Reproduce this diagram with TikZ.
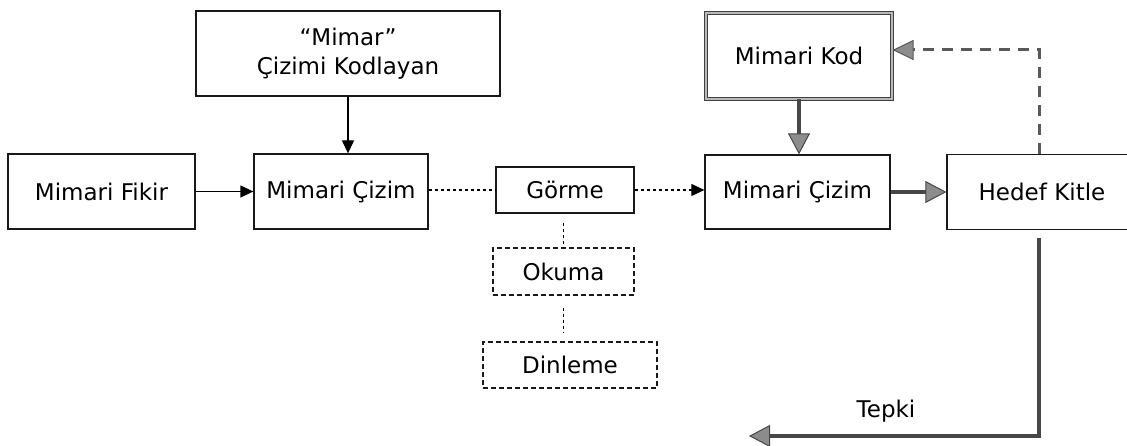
\documentclass[tikz,border=0pt]{standalone}
\usepackage{fontspec}
\setmainfont{DejaVu Sans}
\usetikzlibrary{arrows.meta}
\begin{document}
\begin{tikzpicture}[x=1pt,y=-1pt,
  box/.style={draw=black!90, line width=1.3pt, inner sep=0pt, align=center,
    font=\fontsize{23}{29}\selectfont},
  dbox/.style={box, dash pattern=on 5pt off 3pt},
  kodbox/.style={box, draw=black!75, line width=1pt, double=gray!55, double distance=2pt},
  blk/.style={line width=1.3pt, -{Triangle[length=13pt,width=12pt]}},
  thin dash/.style={line width=1.2pt, dash pattern=on 3.5pt off 2.5pt},
  gry/.style={draw=black!72, line width=3.2pt,
    -{Triangle[length=21pt,width=22pt,fill=black!45,line width=1pt]}},
  fb/.style={draw=black!65, line width=3pt, dash pattern=on 11pt off 8pt,
    -{Triangle[length=21pt,width=20pt,fill=black!45,line width=1pt,sep=0pt]}},
  lbl/.style={font=\fontsize{23}{29}\selectfont, inner sep=0pt}]
\useasboundingbox (0,0) rectangle (1127,446);

\node[box, minimum width=187pt, minimum height=75pt] (fikir) at (101.5,191.5) {Mimari Fikir};
\node[box, minimum width=304pt, minimum height=85pt] (kodlayan) at (348,53.5) {“Mimar”\\Çizimi Kodlayan};
\node[box, minimum width=174pt, minimum height=75pt] (cizim1) at (341,191.5) {Mimari Çizim};
\node[box, minimum width=138pt, minimum height=46pt] (gorme) at (565,190) {Görme};
\node[dbox, minimum width=141pt, minimum height=47pt] (okuma) at (563.5,271.5) {Okuma};
\node[dbox, minimum width=174pt, minimum height=46pt] (dinleme) at (570,365) {Dinleme};
\node[box, minimum width=185pt, minimum height=74pt] (cizim2) at (797.5,192) {Mimari Çizim};
\node[box, minimum width=190pt, minimum height=75pt] (hedef) at (1042,192) {Hedef Kitle};
\node[kodbox, minimum width=186pt, minimum height=86pt] (kod) at (799,56) {Mimari Kod};

\coordinate (hx) at (1039,0);
\coordinate (tepkiEnd) at (749,436);

\draw[blk] (fikir.east) -- (cizim1.west);
\draw[blk] (kodlayan.south) -- (kodlayan.south |- cizim1.north);
\draw[thin dash] (gorme.west -| cizim1.east) -- (gorme.west);
\draw[thin dash, -{Triangle[length=13pt,width=12pt]}] (gorme.east) -- (gorme.east -| cizim2.west);
\draw[thin dash, shorten <=9pt] (gorme.south -| okuma.north) -- (okuma.north);
\draw[thin dash, shorten <=12pt, shorten >=9pt] (okuma.south) -- (okuma.south |- dinleme.north);
\draw[gry] (kod.south) -- (kod.south |- cizim2.north);
\draw[gry] (cizim2.east) -- (hedef.west);
\draw[fb] (hedef.north -| hx) |- ([yshift=6pt]kod.east);
\draw[gry, shorten <=8pt] (hedef.south -| hx) |- (tepkiEnd);
\node[lbl] (tepki) at (886,411) {Tepki};
\end{tikzpicture}
\end{document}
